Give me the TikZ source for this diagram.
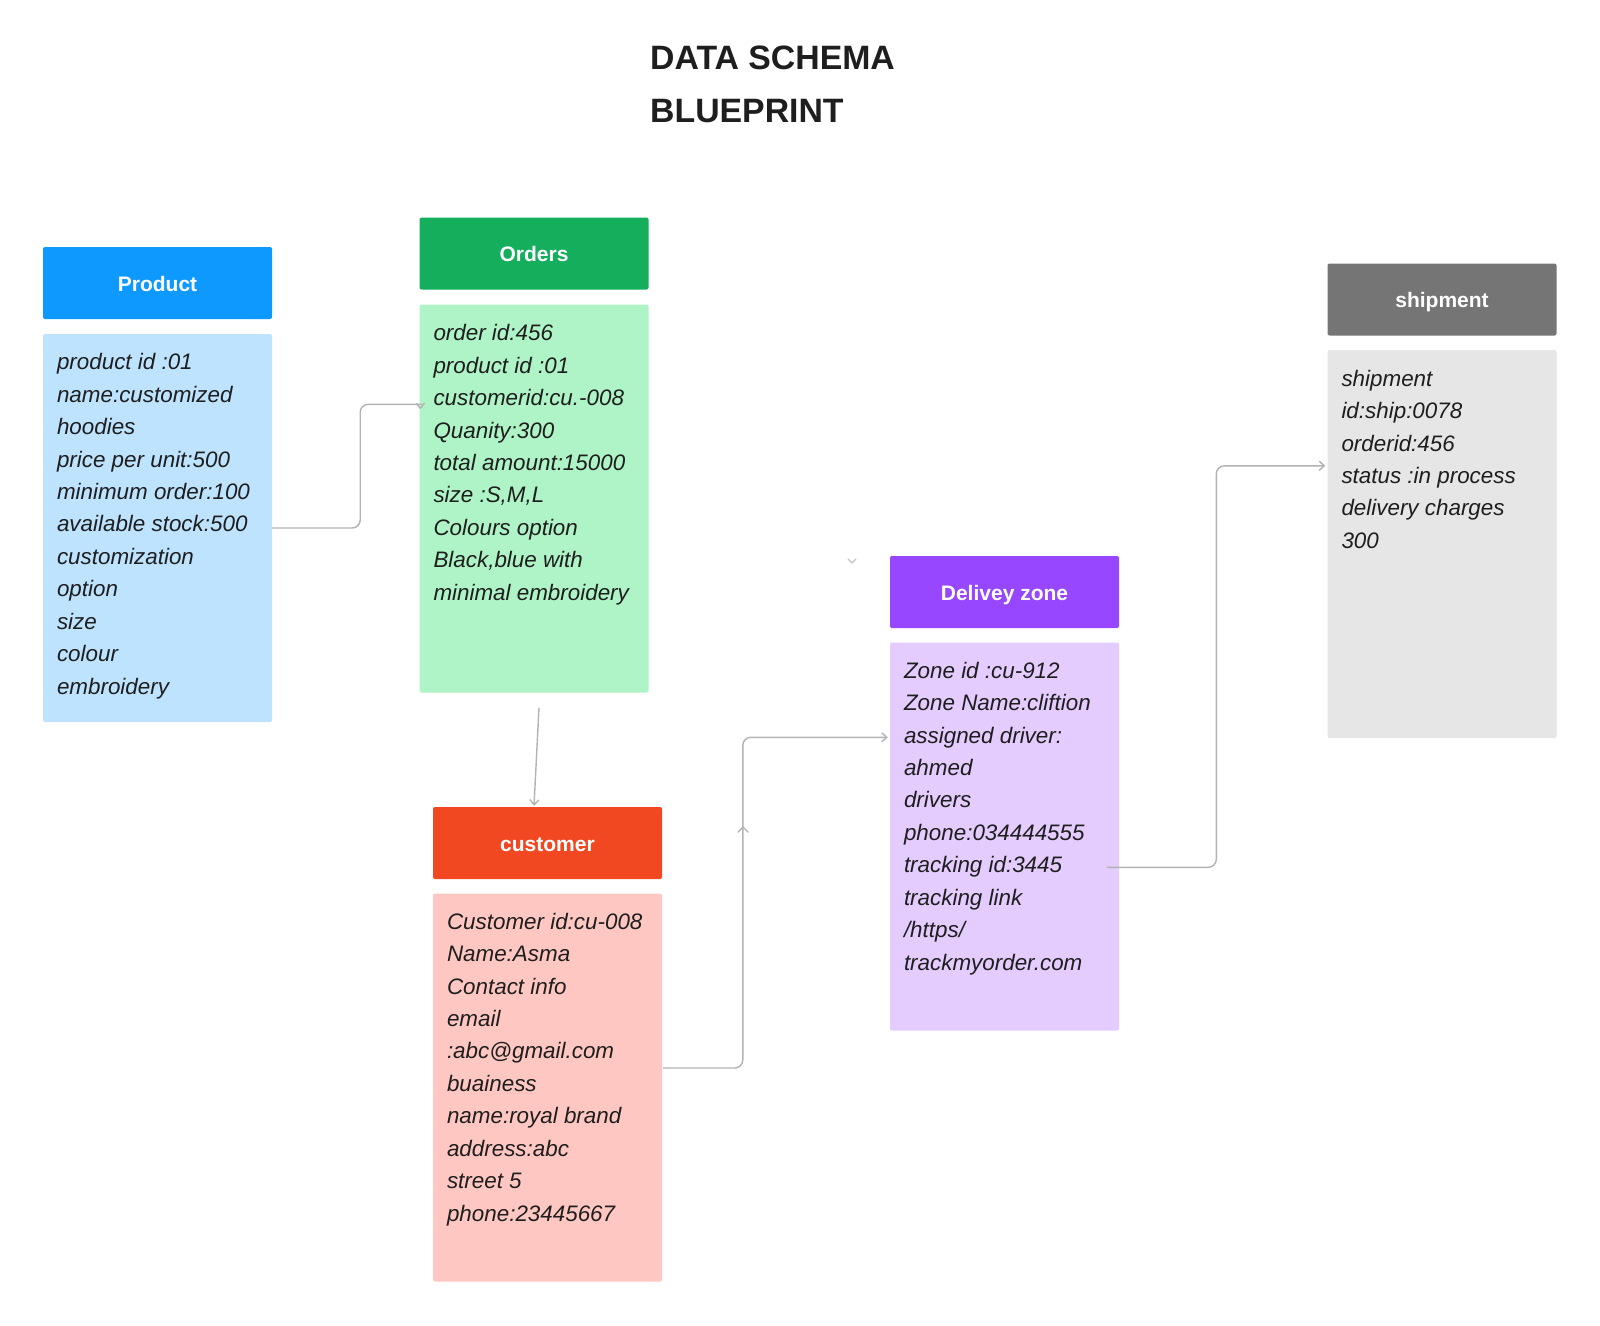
\documentclass[tikz,border=0pt]{standalone}
\usepackage{fontspec}
\setmainfont{Liberation Sans}
\usetikzlibrary{calc,arrows.meta}
\definecolor{prodhdr}{HTML}{0D99FF}
\definecolor{prodbody}{HTML}{BDE3FF}
\definecolor{ordhdr}{HTML}{14AE5C}
\definecolor{ordbody}{HTML}{AFF4C6}
\definecolor{custhdr}{HTML}{F24822}
\definecolor{custbody}{HTML}{FFC7C2}
\definecolor{delhdr}{HTML}{9747FF}
\definecolor{delbody}{HTML}{E4CCFF}
\definecolor{shiphdr}{HTML}{757575}
\definecolor{shipbody}{HTML}{E6E6E6}
\definecolor{textdark}{HTML}{1E1E1E}
\definecolor{linegray}{HTML}{B3B3B3}
\definecolor{faintgray}{HTML}{C4C4C4}
\begin{document}
\begin{tikzpicture}[x=1pt,y=-1pt,
  hdr/.style={rounded corners=2pt, text=white, inner sep=0pt,
    font=\fontsize{21}{25}\selectfont\bfseries,
    text height=16.5pt, text depth=0pt,
    minimum width=229pt, minimum height=72pt},
  bodybox/.style={rounded corners=2pt, inner sep=0pt,
    minimum width=229pt, minimum height=388pt},
  bodytext/.style={anchor=base west, inner sep=0pt, text=textdark,
    font=\fontsize{22.4}{32.42}\selectfont\itshape},
  conn/.style={draw=linegray, line width=1.4pt, rounded corners=8pt},
  tip/.style={-{Straight Barb[length=5pt,width=9pt]}},
  chev/.style={draw=linegray, line width=1.4pt, line cap=round, line join=round}]
\useasboundingbox (0,0) rectangle (1600,1325);
\fill[white] (0,0) rectangle (1600,1325);

% title
\node[anchor=base west, inner sep=0pt, text=textdark,
  font=\fontsize{33.8}{53}\selectfont\bfseries] (title) at (650,69)
  {\parbox[t]{400pt}{\raggedright DATA SCHEMA\\BLUEPRINT}};

% Product
\node[hdr, fill=prodhdr] (phdr) at (157.5,283) {Product};
\node[bodybox, fill=prodbody] (pbody) at (157.5,528) {};
\node[bodytext] (ptext) at ($(pbody.north west)+(14,36)$)
  {\parbox[t]{215pt}{\raggedright product id :01\\name:customized\\hoodies\\price per unit:500\\minimum order:100\\available stock:500\\customization\\option\\size\\colour\\embroidery}};

% Orders
\node[hdr, fill=ordhdr] (ohdr) at (534,253.5) {Orders};
\node[bodybox, fill=ordbody] (obody) at (534,498.5) {};
\node[bodytext] (otext) at ($(obody.north west)+(14,36.5)$)
  {\parbox[t]{215pt}{\raggedright order id:456\\product id :01\\customerid:cu.-008\\Quanity:300\\total amount:15000\\size :S,M,L\\Colours option\\Black,blue with\\minimal embroidery}};

% Shipment
\node[hdr, fill=shiphdr] (shdr) at (1442,299.5) {shipment};
\node[bodybox, fill=shipbody] (sbody) at (1442,544) {};
\node[bodytext] (stext) at ($(sbody.north west)+(14,36.5)$)
  {\parbox[t]{215pt}{\raggedright shipment\\id:ship:0078\\orderid:456\\status :in process\\delivery charges\\300}};

% Delivery zone
\node[hdr, fill=delhdr] (dhdr) at (1004.5,592) {Delivey zone};
\node[bodybox, fill=delbody] (dbody) at (1004.5,836.5) {};
\node[bodytext] (dtext) at ($(dbody.north west)+(14,36)$)
  {\parbox[t]{215pt}{\raggedright Zone id :cu-912\\Zone Name:cliftion\\assigned driver:\\ahmed\\drivers\\phone:034444555\\tracking id:3445\\tracking link\\/https/\\trackmyorder.com}};

% Customer
\node[hdr, fill=custhdr] (chdr) at (547.5,843) {customer};
\node[bodybox, fill=custbody] (cbody) at (547.5,1087.5) {};
\node[bodytext] (ctext) at ($(cbody.north west)+(14,36)$)
  {\parbox[t]{215pt}{\raggedright Customer id:cu-008\\Name:Asma\\Contact info\\email\\:abc@gmail.com\\buainess\\name:royal brand\\address:abc\\street 5\\phone:23445667}};

% connectors
\draw[conn] (pbody.east) -- ++(88,0) |- ($(obody.north west)+(3,100)$);
\draw[chev] ($(obody.north west)+(-3,99)$) -- ($(obody.north west)+(1,104)$) -- ($(obody.north west)+(5,99)$);

\draw[conn, tip] ($(obody.south)+(5,15)$) -- ($(chdr.north)+(-13.5,-1)$);

\draw[conn, tip] ($(cbody.east)+(1,-19.5)$) -| ($(dbody.north west)+(-147,95)$) -- ($(dbody.north west)+(-2,95)$);
\draw[chev] (738,832) -- (743,827) -- (748,832);

\draw[conn, tip] ($(dbody.north east)+(-12,225)$) -| ($(sbody.north west)+(-111,116)$) -- ($(sbody.north west)+(-2,116)$);

% stray mark
\draw[draw=faintgray, line width=1.3pt, line cap=round, line join=round] (848,559) -- (852,563) -- (856,559);
\end{tikzpicture}
\end{document}
